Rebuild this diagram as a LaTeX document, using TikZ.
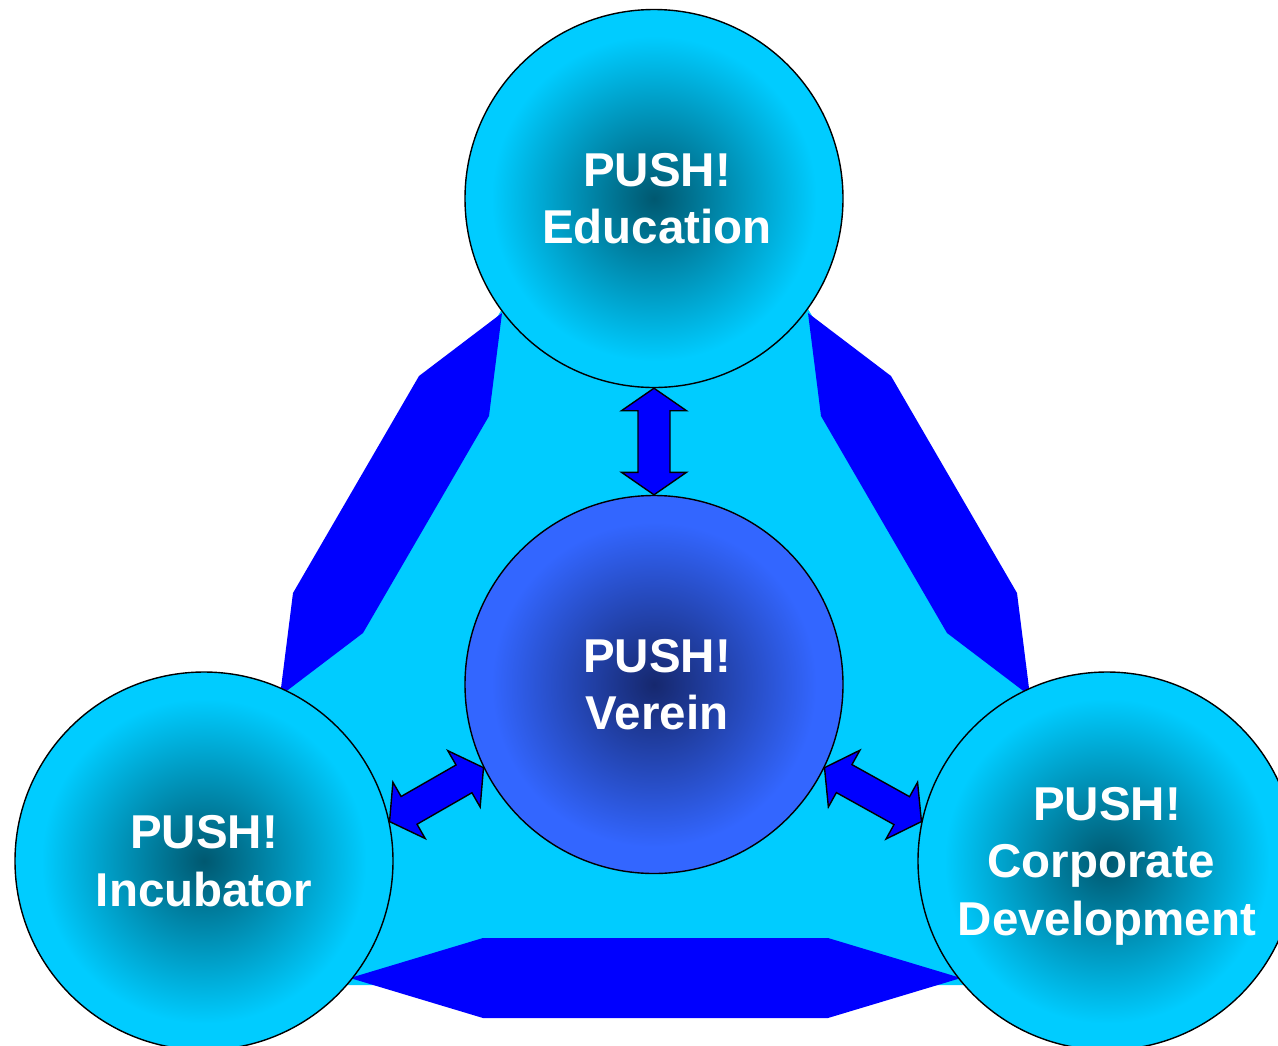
\documentclass[tikz,border=0pt]{standalone}
\usepackage{fontspec}
\setmainfont{Liberation Sans}
\usetikzlibrary{calc}
\definecolor{cyanc}{HTML}{00CCFF}
\definecolor{bandblue}{HTML}{0000FF}
\definecolor{darkteal}{HTML}{005870}
\definecolor{vereinc}{HTML}{3366FF}
\definecolor{vereindark}{HTML}{16286E}
\pgfdeclareradialshading{outerglow}{\pgfpoint{0bp}{0bp}}{color(0bp)=(darkteal); color(21.5bp)=(cyanc); color(25bp)=(cyanc); color(50bp)=(cyanc)}
\pgfdeclareradialshading{centerglow}{\pgfpoint{0bp}{0bp}}{color(0bp)=(vereindark); color(21.5bp)=(vereinc); color(25bp)=(vereinc); color(50bp)=(vereinc)}
\newcommand\dblarrowconn[2]{%
  \filldraw[arrowshape] (#1)
    -- ($(#1)!22.5pt!(#2)!32.5pt!90:(#2)$)
    -- ($(#1)!22.5pt!(#2)!16pt!90:(#2)$)
    -- ($(#2)!22.5pt!(#1)!16pt!-90:(#1)$)
    -- ($(#2)!22.5pt!(#1)!32.5pt!-90:(#1)$)
    -- (#2)
    -- ($(#2)!22.5pt!(#1)!32.5pt!90:(#1)$)
    -- ($(#2)!22.5pt!(#1)!16pt!90:(#1)$)
    -- ($(#1)!22.5pt!(#2)!16pt!-90:(#2)$)
    -- ($(#1)!22.5pt!(#2)!32.5pt!-90:(#2)$)
    -- cycle;}
\begin{document}
\begin{tikzpicture}[x=1pt,y=-1pt,
  circ/.style={circle, draw=black, line width=1.4pt, minimum size=378pt, inner sep=0pt,
    align=center, text=white, text depth=0pt,
    font=\bfseries\fontsize{47.5pt}{57.5pt}\selectfont},
  outercirc/.style={circ, shading=outerglow},
  centercirc/.style={circ, shading=centerglow},
  band/.style={fill=bandblue, draw=none},
  arrowshape/.style={fill=bandblue, draw=black, line width=1.4pt, line join=miter}]
\useasboundingbox (0,0) rectangle (1278,1045);
\clip (0,0) rectangle (1278,1045);
\fill[white] (0,0) rectangle (1278,1045);
% background triangle
\fill[cyanc] (655,45) -- (110,985) -- (1200,985) -- cycle;
% bands
\fill[band] (502,313) -- (419,376) -- (293,593) -- (280,696) -- (363,633) -- (489,416) -- cycle;
\fill[band] (808,313) -- (891,376) -- (1017,593) -- (1030,696) -- (947,633) -- (821,416) -- cycle;
\fill[band] (350,978) -- (483,938) -- (828,938) -- (961,978) -- (828,1018) -- (483,1018) -- cycle;
% circles
\node[outercirc] (edu) at (654,198.5) {\hspace*{6pt}PUSH!\\\hspace*{6pt}Education};
\node[centercirc] (ver) at (654,684.5) {\hspace*{6pt}PUSH!\\\hspace*{6pt}Verein};
\node[outercirc] (inc) at (204,861) {PUSH!\\Incubator};
\node[outercirc] (corp) at (1107,861) {PUSH!\\\hspace*{-12pt}Corporate\\Development};
% double arrows
\dblarrowconn{edu.south}{ver.north}
\dblarrowconn{ver.206}{inc.12}
\dblarrowconn{ver.334}{corp.168}
\end{tikzpicture}
\end{document}
